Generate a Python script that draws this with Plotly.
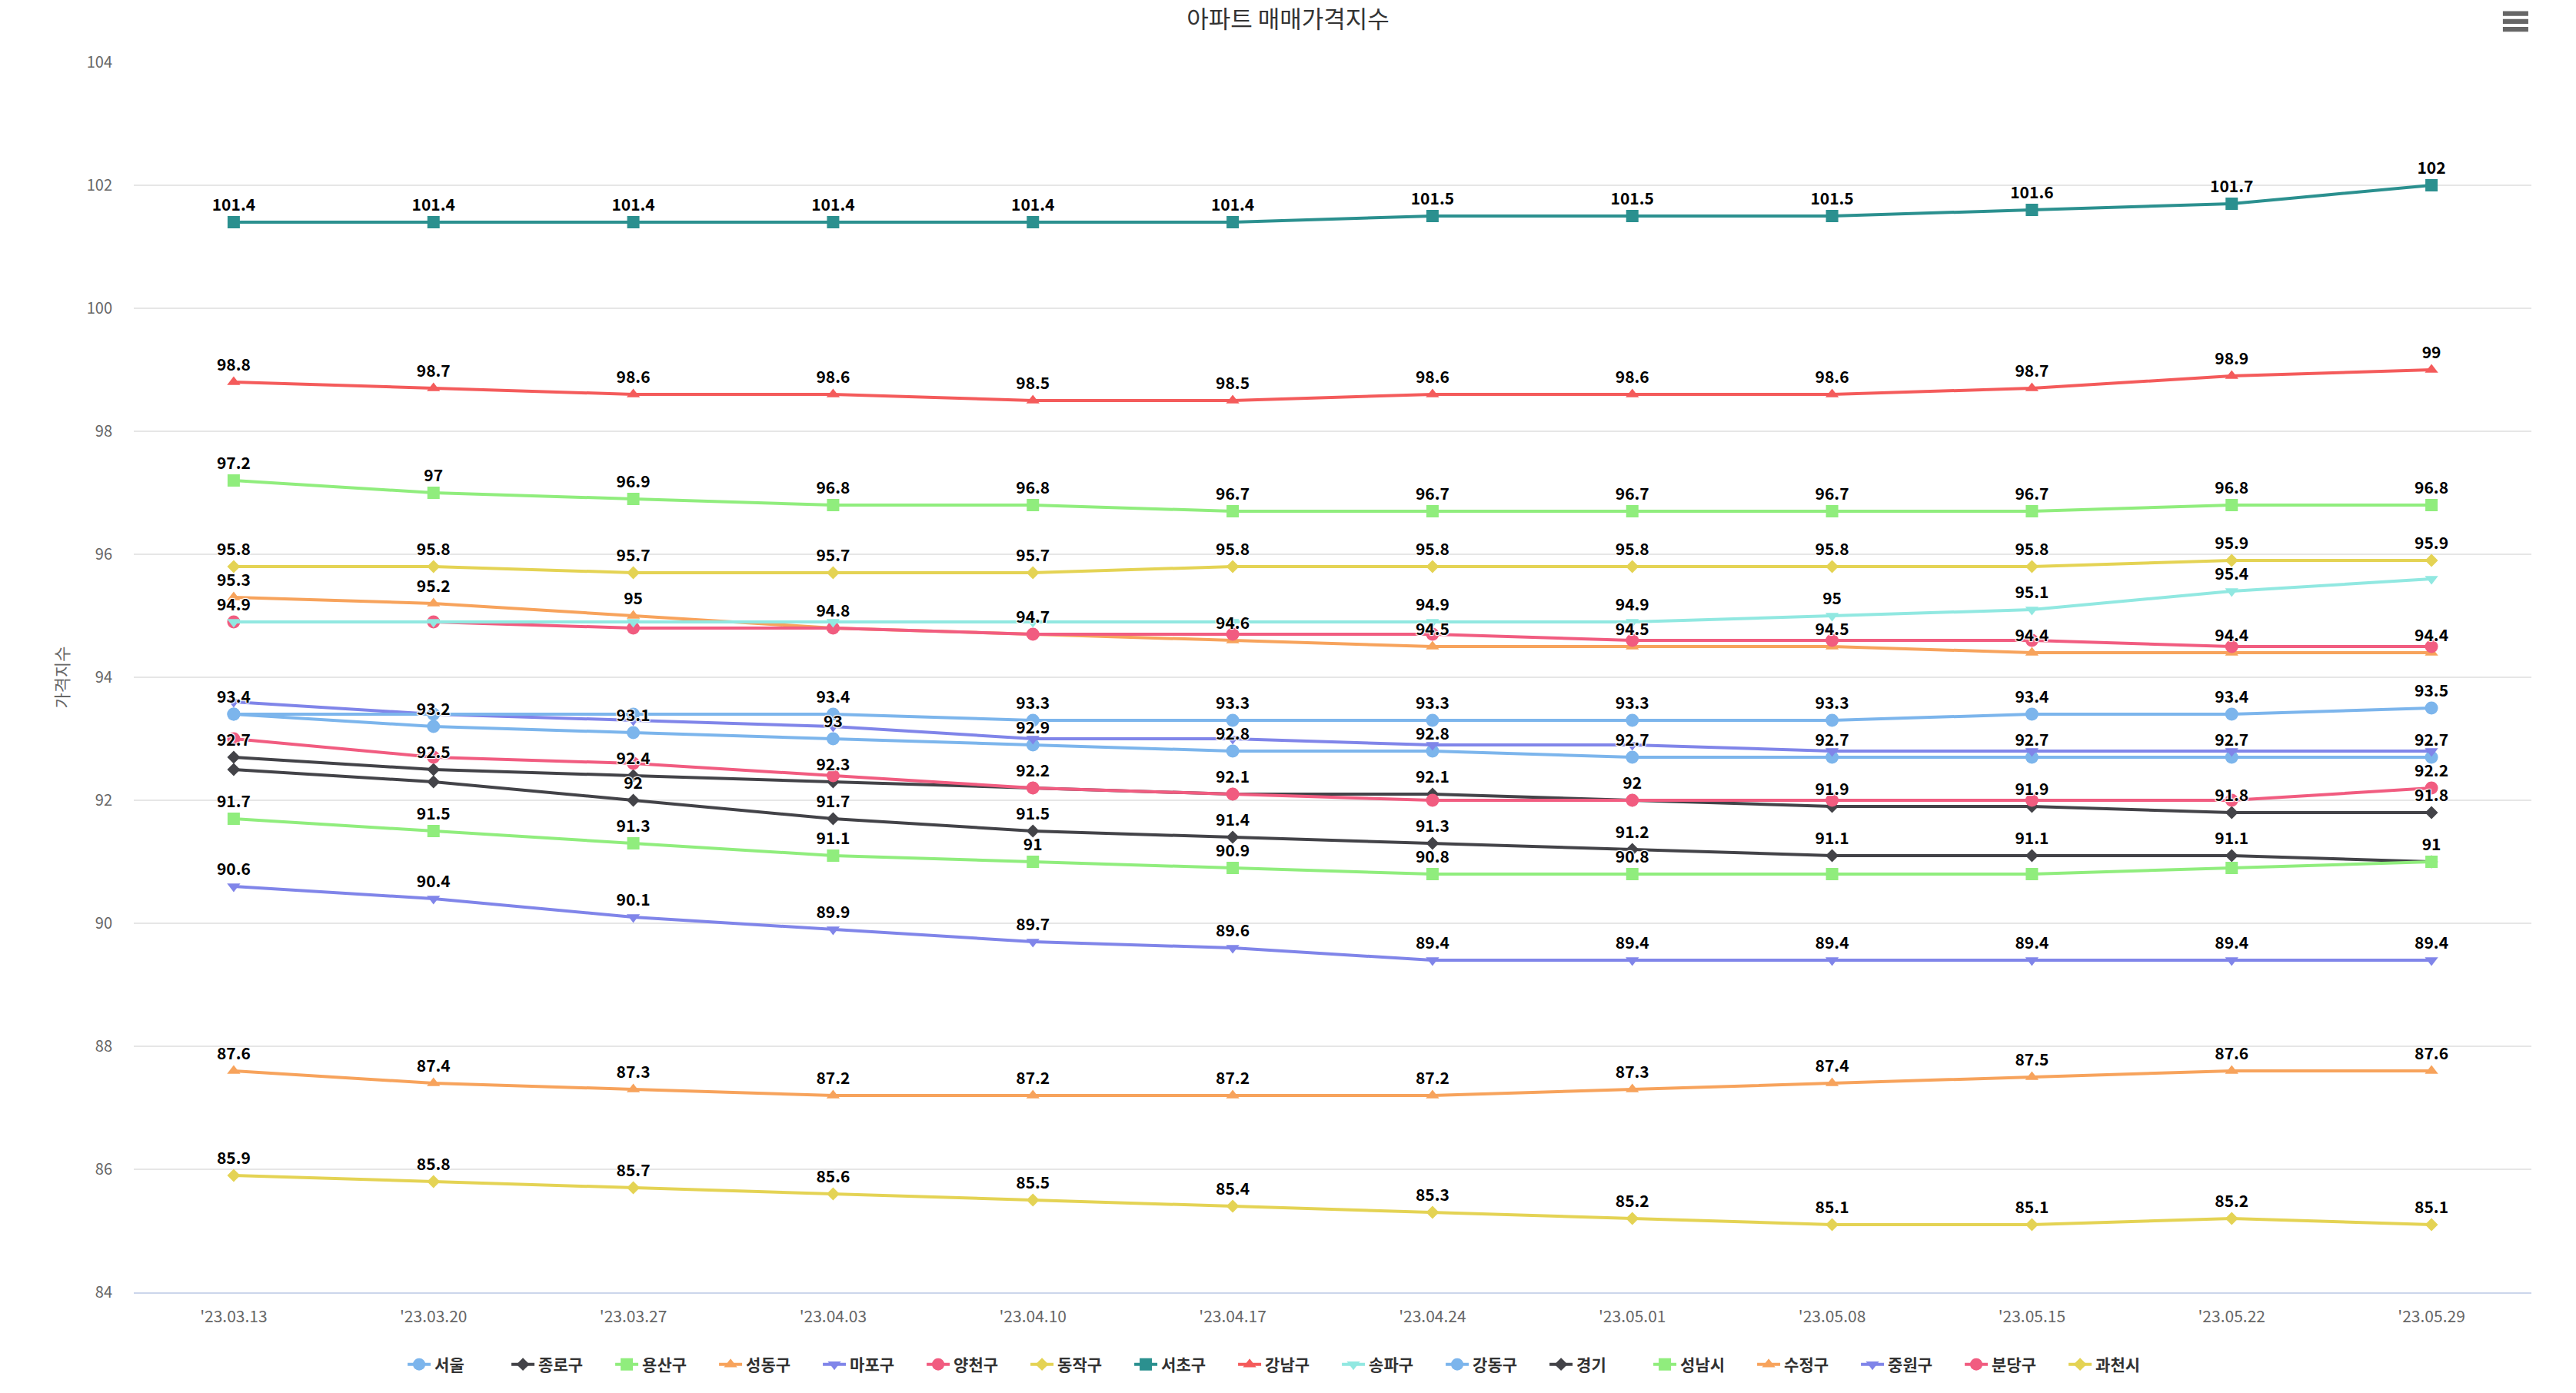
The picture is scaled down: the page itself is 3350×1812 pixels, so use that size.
import plotly.graph_objects as go

# ---------------- data ----------------
categories = ["'23.03.13", "'23.03.20", "'23.03.27", "'23.04.03", "'23.04.10", "'23.04.17",
              "'23.04.24", "'23.05.01", "'23.05.08", "'23.05.15", "'23.05.22", "'23.05.29"]

seoul    = [93.4, 93.2, 93.1, 93.0, 92.9, 92.8, 92.8, 92.7, 92.7, 92.7, 92.7, 92.7]
jongno   = [92.7, 92.5, 92.4, 92.3, 92.2, 92.1, 92.1, 92.0, 91.9, 91.9, 91.8, 91.8]
yongsan  = [97.2, 97.0, 96.9, 96.8, 96.8, 96.7, 96.7, 96.7, 96.7, 96.7, 96.8, 96.8]
seongdong = [95.3, 95.2, 95.0, 94.8, 94.7, 94.6, 94.5, 94.5, 94.5, 94.4, 94.4, 94.4]
mapo     = [93.6, 93.4, 93.3, 93.2, 93.0, 93.0, 92.9, 92.9, 92.8, 92.8, 92.8, 92.8]
yangcheon = [94.9, 94.9, 94.8, 94.8, 94.7, 94.7, 94.7, 94.6, 94.6, 94.6, 94.5, 94.5]
dongjak  = [95.8, 95.8, 95.7, 95.7, 95.7, 95.8, 95.8, 95.8, 95.8, 95.8, 95.9, 95.9]
seocho   = [101.4, 101.4, 101.4, 101.4, 101.4, 101.4, 101.5, 101.5, 101.5, 101.6, 101.7, 102.0]
gangnam  = [98.8, 98.7, 98.6, 98.6, 98.5, 98.5, 98.6, 98.6, 98.6, 98.7, 98.9, 99.0]
songpa   = [94.9, 94.9, 94.9, 94.9, 94.9, 94.9, 94.9, 94.9, 95.0, 95.1, 95.4, 95.6]
gangdong = [93.4, 93.4, 93.4, 93.4, 93.3, 93.3, 93.3, 93.3, 93.3, 93.4, 93.4, 93.5]
gyeonggi = [92.5, 92.3, 92.0, 91.7, 91.5, 91.4, 91.3, 91.2, 91.1, 91.1, 91.1, 91.0]
seongnam = [91.7, 91.5, 91.3, 91.1, 91.0, 90.9, 90.8, 90.8, 90.8, 90.8, 90.9, 91.0]
sujeong  = [87.6, 87.4, 87.3, 87.2, 87.2, 87.2, 87.2, 87.3, 87.4, 87.5, 87.6, 87.6]
jungwon  = [90.6, 90.4, 90.1, 89.9, 89.7, 89.6, 89.4, 89.4, 89.4, 89.4, 89.4, 89.4]
bundang  = [93.0, 92.7, 92.6, 92.4, 92.2, 92.1, 92.0, 92.0, 92.0, 92.0, 92.0, 92.2]
gwacheon = [85.9, 85.8, 85.7, 85.6, 85.5, 85.4, 85.3, 85.2, 85.1, 85.1, 85.2, 85.1]

series_names = ["서울", "종로구", "용산구", "성동구", "마포구", "양천구", "동작구", "서초구", "강남구",
                "송파구", "강동구", "경기", "성남시", "수정구", "중원구", "분당구", "과천시"]
series_values = [seoul, jongno, yongsan, seongdong, mapo, yangcheon, dongjak, seocho, gangnam,
                 songpa, gangdong, gyeonggi, seongnam, sujeong, jungwon, bundang, gwacheon]

# ---------------- styles ----------------
palette = ["#7cb5ec", "#434348", "#90ed7d", "#f7a35c", "#8085e9",
           "#f15c80", "#e4d354", "#2b908f", "#f45b5b", "#91e8e1"]
symbol_cycle = ["circle", "diamond", "square", "triangle-up", "triangle-down"]
symbol_size = {"circle": 17, "diamond": 13, "square": 16, "triangle-up": 15, "triangle-down": 15}

FONT = "Noto Sans CJK KR, Noto Sans, sans-serif"

# data labels: hide a label if it would collide with an already shown label
LABEL_GAP = 0.35
shown_per_col = [[] for _ in categories]
label_texts = []
for vals in series_values:
    texts = []
    for i, v in enumerate(vals):
        if any(abs(v - w) < LABEL_GAP for w in shown_per_col[i]):
            texts.append("")
        else:
            shown_per_col[i].append(v)
            texts.append(f"{v:g}")
    label_texts.append(texts)

fig = go.Figure()

for k, (name, vals) in enumerate(zip(series_names, series_values)):
    color = palette[k % len(palette)]
    sym = symbol_cycle[k % len(symbol_cycle)]
    fig.add_trace(go.Scatter(
        x=categories, y=vals, name=name, mode="lines+markers",
        line=dict(color=color, width=4),
        marker=dict(symbol=sym, size=symbol_size[sym], color=color, line=dict(width=0)),
        hoverinfo="skip",
    ))

for k, (name, vals) in enumerate(zip(series_names, series_values)):
    fig.add_trace(go.Scatter(
        x=categories, y=vals, mode="markers+text", showlegend=False,
        text=label_texts[k], textposition="top center",
        marker=dict(size=14, color="rgba(0,0,0,0)"),
        textfont=dict(family=FONT, size=21, color="#000000", weight="bold",
                      shadow="1px 1px 1px #fff, -1px -1px 1px #fff, 1px -1px 1px #fff, -1px 1px 1px #fff"),
        hoverinfo="skip", cliponaxis=False,
    ))

# hamburger menu icon (decoration)
for (y0, y1) in [(1.0376, 1.0415), (1.0312, 1.0351), (1.0248, 1.0288)]:
    fig.add_shape(type="rect", xref="paper", yref="paper", x0=0.9881, x1=0.9987, y0=y0, y1=y1,
                  fillcolor="#666666", line=dict(width=0), layer="above")

fig.update_layout(
    width=3350, height=1812,
    margin=dict(l=174, r=58, t=81, b=131),
    paper_bgcolor="#ffffff", plot_bgcolor="#ffffff",
    font=dict(family=FONT, color="#333333"),
    title=dict(text="아파트 매매가격지수", x=0.5, xanchor="center", xref="container",
               y=1 - 25 / 1812, yanchor="middle", yref="container",
               font=dict(family=FONT, size=31, color="#333333")),
    xaxis=dict(type="category", range=[-0.5, 11.5], showgrid=False, zeroline=False,
               showline=True, linecolor="#ccd6eb", linewidth=2, ticks="",
               tickfont=dict(family=FONT, size=21, color="#666666"),
               ticklabelstandoff=12, automargin=False, fixedrange=True),
    yaxis=dict(range=[84, 104], dtick=2, showgrid=True, gridcolor="#e6e6e6", gridwidth=2,
               zeroline=False, showline=False, ticks="",
               tickfont=dict(family=FONT, size=20, color="#666666"),
               ticklabelstandoff=27,
               title=dict(text="가격지수", font=dict(family=FONT, size=22, color="#666666"), standoff=16),
               automargin=False, fixedrange=True),
    legend=dict(orientation="h", x=0.1126, xanchor="left", y=-0.05875, yanchor="middle",
                font=dict(family=FONT, size=21, color="#333333", weight="bold"),
                entrywidth=90, entrywidthmode="pixels", bgcolor="rgba(0,0,0,0)"),
    showlegend=True,
)

fig.write_html("out.html", config={"displayModeBar": False},
               post_script="document.body.style.margin='0';")
